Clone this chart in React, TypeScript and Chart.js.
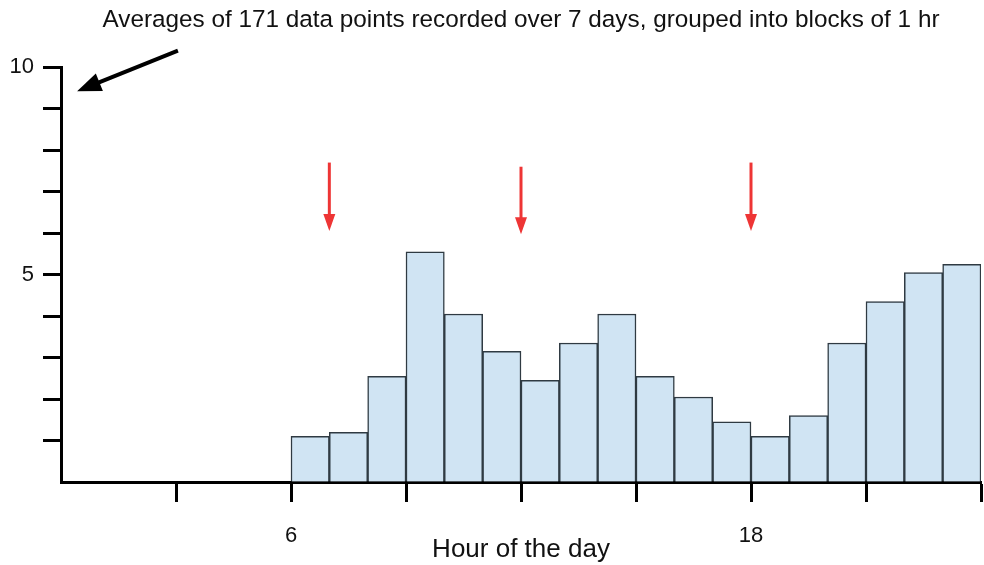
import React, { useEffect, useRef } from "react";
import { Chart, registerables } from "chart.js";

Chart.register(...registerables);

const TITLE = "Averages of 171 data points recorded over 7 days, grouped into blocks of 1 hr";
const X_TITLE = "Hour of the day";

// start hour of each 1-hr block
const hourStarts = [6, 7, 8, 9, 10, 11, 12, 13, 14, 15, 16, 17, 18, 19, 20, 21, 22, 23];
// average value of each block
const averages = [1.1, 1.2, 2.55, 5.55, 4.05, 3.15, 2.45, 3.35, 4.05, 2.55, 2.05, 1.45, 1.1, 1.6, 3.35, 4.35, 5.05, 5.25];

const xLabelledHours = [6, 18];
const yLabelledValues = [5, 10];

// red marker arrows (hour, top value, tip value)
const markerHours = [7, 12, 18];
const markerTops = [7.7, 7.6, 7.7];
const markerTips = [6.05, 5.97, 6.05];

// black pointer arrow (data coordinates)
const pointerTail = [3.05, 10.4];
const pointerTip = [0.42, 9.42];

const FONT = "'Liberation Sans', Arial, sans-serif";

function drawArrow(
  ctx: CanvasRenderingContext2D,
  x1: number, y1: number, x2: number, y2: number,
  color: string, lineW: number, headLen: number, headW: number
) {
  const ang = Math.atan2(y2 - y1, x2 - x1);
  const c = Math.cos(ang), s = Math.sin(ang);
  const bx = x2 - headLen * c, by = y2 - headLen * s;
  ctx.save();
  ctx.strokeStyle = color;
  ctx.fillStyle = color;
  ctx.lineWidth = lineW;
  ctx.lineCap = "butt";
  ctx.beginPath();
  ctx.moveTo(x1, y1);
  ctx.lineTo(bx + c * 1, by + s * 1);
  ctx.stroke();
  ctx.beginPath();
  ctx.moveTo(x2, y2);
  ctx.lineTo(bx - (headW / 2) * s, by + (headW / 2) * c);
  ctx.lineTo(bx + (headW / 2) * s, by - (headW / 2) * c);
  ctx.closePath();
  ctx.fill();
  ctx.restore();
}

const arrowsPlugin = {
  id: "arrows",
  afterDraw(chart: any) {
    const { ctx } = chart;
    const xs = chart.scales.x;
    const ys = chart.scales.y;
    markerHours.forEach((h, i) => {
      const x = xs.getPixelForValue(h);
      drawArrow(ctx, x, ys.getPixelForValue(markerTops[i]), x, ys.getPixelForValue(markerTips[i]), "#ee3535", 3, 17, 12);
    });
    drawArrow(
      ctx,
      xs.getPixelForValue(pointerTail[0]), ys.getPixelForValue(pointerTail[1]),
      xs.getPixelForValue(pointerTip[0]), ys.getPixelForValue(pointerTip[1]),
      "#000000", 4, 24, 19
    );
  },
};

export default function App() {
  const ref = useRef<HTMLCanvasElement | null>(null);

  useEffect(() => {
    if (!ref.current) return;
    const chart = new Chart(ref.current, {
      type: "bar",
      data: {
        datasets: [
          {
            data: hourStarts.map((h, i) => ({ x: h + 0.5, y: averages[i] })),
            backgroundColor: "#d0e4f3",
            borderColor: "#2f3a42",
            borderWidth: 1.5,
            barPercentage: 1,
            categoryPercentage: 1,
          },
        ],
      },
      options: {
        animation: false,
        responsive: false,
        devicePixelRatio: 1,
        layout: { padding: { left: 0, right: 3, top: 0, bottom: 0 } },
        plugins: {
          legend: { display: false },
          tooltip: { enabled: false },
          title: {
            display: true,
            fullSize: false,
            text: TITLE,
            color: "#111111",
            font: { family: FONT, size: 24.3, weight: "normal" },
            padding: { top: 6, bottom: 32 },
          },
        },
        scales: {
          x: {
            type: "linear",
            min: 0,
            max: 24,
            offset: false,
            afterFit: (s: any) => {
              s.height = 83;
              s.paddingLeft = 0;
              s.paddingRight = 0;
            },
            border: { display: true, color: "#000000", width: 3 },
            grid: {
              offset: false,
              drawOnChartArea: false,
              drawTicks: true,
              tickLength: 20,
              tickWidth: 3,
              tickColor: (c: any) => (c.tick && c.tick.value === 0 ? "rgba(0,0,0,0)" : "#000000"),
            },
            ticks: {
              stepSize: 3,
              padding: 21,
              maxRotation: 0,
              autoSkip: false,
              color: "#111111",
              font: { family: FONT, size: 22 },
              callback: (v: any) => (xLabelledHours.includes(Number(v)) ? String(v) : ""),
            },
            title: {
              display: true,
              text: X_TITLE,
              color: "#111111",
              font: { family: FONT, size: 26 },
              padding: 0,
            },
          },
          y: {
            min: 0,
            max: 10,
            afterFit: (s: any) => { s.width = 61; },
            border: { display: true, color: "#000000", width: 3 },
            grid: {
              drawOnChartArea: false,
              drawTicks: true,
              tickLength: 18,
              tickWidth: 3,
              tickColor: (c: any) => (c.tick && c.tick.value === 0 ? "rgba(0,0,0,0)" : "#000000"),
            },
            ticks: {
              stepSize: 1,
              padding: 9,
              autoSkip: false,
              color: "#111111",
              font: { family: FONT, size: 22 },
              callback: (v: any) => (yLabelledValues.includes(Number(v)) ? String(v) : ""),
            },
          },
        },
      },
      plugins: [arrowsPlugin],
    } as any);
    return () => chart.destroy();
  }, []);

  return (
    <div style={{ position: "absolute", left: 0, top: 0, width: 984, height: 565, background: "#ffffff" }}>
      <canvas ref={ref} width={984} height={565} style={{ width: 984, height: 565 }} />
    </div>
  );
}
